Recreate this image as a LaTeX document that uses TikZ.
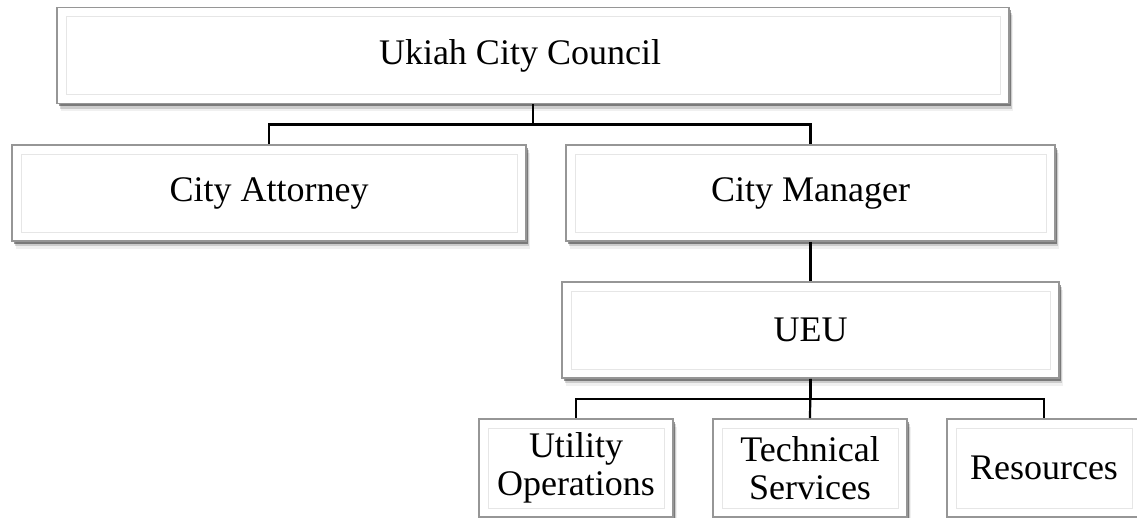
\documentclass[tikz,border=0pt]{standalone}
\usepackage{fontspec}
\setmainfont{Liberation Serif}
\usetikzlibrary{positioning,shadows}

\definecolor{boxline}{RGB}{150,150,150}
\definecolor{boxinner}{RGB}{230,230,230}

\tikzset{
	orgbox/.style={draw=boxline, line width=1.8pt, fill=white, inner sep=0pt,
		minimum height=96pt, align=center,
		font=\fontsize{36}{38}\selectfont,
		drop shadow={shadow xshift=1.5pt, shadow yshift=-2.5pt, fill=black, opacity=0.4},
		drop shadow={shadow xshift=2.5pt, shadow yshift=-5pt, fill=black, opacity=0.15},
		drop shadow={shadow xshift=3.5pt, shadow yshift=-7.5pt, fill=black, opacity=0.06},
		path picture={\draw[boxinner, line width=0.8pt]
			([shift={(9pt,-9pt)}]path picture bounding box.north west) rectangle
			([shift={(-9pt,9pt)}]path picture bounding box.south east);}},
	orgline/.style={black, line width=2.2pt}
}

\begin{document}
\begin{tikzpicture}[x=1pt, y=-1pt]
					\pgfmathsetmacro{\BusGap}{20}
					\pgfmathsetmacro{\SmallWidth}{194}
					\useasboundingbox (0,0) rectangle (1137,517);
					\clip (0,0) rectangle (1137,517);
					% TOP
					\node[orgbox, minimum width=952pt] (council) at (533,55.5) {Ukiah City Council\hspace*{26pt}};
					% MIDDLE
					\node[orgbox, minimum width=514pt] (attorney) at (269,193) {City Attorney};
					\node[orgbox, minimum width=489pt] (manager) at (810.5,193) {City Manager};
					\node[orgbox, minimum width=497pt] (ueu) at (810.5,330) {UEU};
					% BOTTOM
					\node[orgbox, minimum width=\SmallWidth pt, minimum height=98pt] (utility) at (576,468) {Utility\\Operations};
					\node[orgbox, minimum width=\SmallWidth pt, minimum height=98pt] (technical) at (810,468) {Technical\\Services};
					\node[orgbox, minimum width=\SmallWidth pt, minimum height=98pt] (resources) at (1044,468) {Resources};
					% LINES
					\draw[orgline] (council.south) -- ++(0,\BusGap) -| (attorney.north);
					\draw[orgline] (council.south) -- ++(0,\BusGap) -| (manager.north);
					\draw[orgline] (manager.south) -- (ueu.north);
					\draw[orgline] (ueu.south) -- ++(0,\BusGap) -| (utility.north);
					\draw[orgline] (ueu.south) -- (technical.north);
					\draw[orgline] (ueu.south) -- ++(0,\BusGap) -| (resources.north);
				\end{tikzpicture}
\end{document}
